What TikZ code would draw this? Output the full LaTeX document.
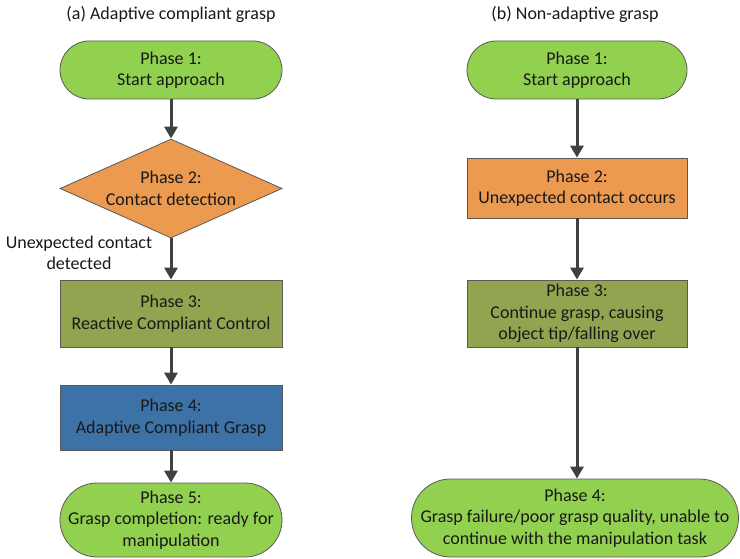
\documentclass[tikz,border=0pt]{standalone}
\usepackage{fontspec}
\setmainfont{Carlito}
\usetikzlibrary{shapes.geometric,arrows.meta}
\definecolor{phgreen}{HTML}{92D050}
\definecolor{phorange}{HTML}{EB9A50}
\definecolor{pholive}{HTML}{93A450}
\definecolor{phblue}{HTML}{3C72A6}
\definecolor{edgegray}{HTML}{5A5A5A}
\definecolor{arrowgray}{HTML}{404040}
\begin{document}
\begin{tikzpicture}[x=1pt,y=-1pt,
  base/.style={draw=edgegray, line width=0.8pt, align=center, inner sep=0pt,
    font=\fontsize{18}{21.5}\selectfont, text=black!90},
  pill/.style={base, rectangle, fill=phgreen, rounded corners=#1},
  box/.style={base, rectangle, fill=#1},
  txt/.style={align=center, inner sep=0pt, font=\fontsize{18}{21.5}\selectfont, text=black!90},
  arr/.style={draw=arrowgray, line width=3pt, -{Triangle[width=13pt,length=12pt]}}
]
\useasboundingbox (0,0) rectangle (740,559);

% column titles
\node[txt] (ta) at (171,14) {(a) Adaptive compliant grasp};
\node[txt] (tb) at (575,14) {(b) Non-adaptive grasp};

% (a) adaptive compliant grasp
\node[pill=29pt, minimum width=222pt, minimum height=58pt] (L1) at (171,70) {Phase 1:\\Start approach};
\node[base, diamond, fill=phorange, minimum width=222pt, minimum height=99pt] (L2) at (171,188.5) {};
\node[txt] (L2t) at (L2.center) {Phase 2:\\Contact detection};
\node[box=pholive, minimum width=222pt, minimum height=67pt] (L3) at (171,313.5) {Phase 3:\\Reactive Compliant Control};
\node[box=phblue, minimum width=222pt, minimum height=65pt] (L4) at (171,417.5) {Phase 4:\\Adaptive Compliant Grasp};
\node[pill=37pt, minimum width=222pt, minimum height=74pt] (L5) at (171,520) {Phase 5:\\Grasp completion: ready for\\manipulation};
\node[txt] (lab) at (79,253) {Unexpected contact\\detected};

\draw[arr] (L1) -- (L2);
\draw[arr] (L2) -- (L3);
\draw[arr] (L3) -- (L4);
\draw[arr] (L4) -- (L5);

% (b) non-adaptive grasp
\node[pill=29pt, minimum width=220pt, minimum height=58pt] (R1) at (577,70) {Phase 1:\\Start approach};
\node[box=phorange, minimum width=220pt, minimum height=60pt] (R2) at (577,188) {Phase 2:\\Unexpected contact occurs};
\node[box=pholive, minimum width=220pt, minimum height=67pt] (R3) at (577,313.5) {Phase 3:\\Continue grasp, causing\\object tip/falling over};
\node[pill=39pt, minimum width=327pt, minimum height=78pt] (R4) at (575,518) {Phase 4:\\Grasp failure/poor grasp quality, unable to\\continue with the manipulation task};

\draw[arr] (R1) -- (R2);
\draw[arr] (R2) -- (R3);
\draw[arr] (R3.south) -- (R3.south |- R4.north);
\end{tikzpicture}
\end{document}
